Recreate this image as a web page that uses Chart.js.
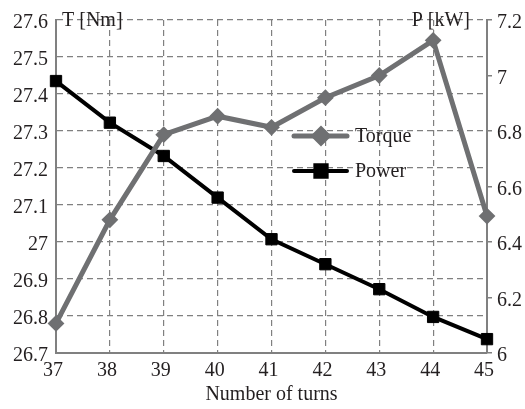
<!DOCTYPE html>
<html>
<head>
<meta charset="utf-8">
<script src="https://cdn.jsdelivr.net/npm/chart.js@4/dist/chart.umd.min.js"></script>
<style>
  html, body { margin: 0; padding: 0; background: #fff; }
  #wrap { width: 525px; height: 409px; }
</style>
</head>
<body>
<div id="wrap"><canvas id="turnsChart" width="525" height="409"></canvas></div>
<script>
// === Daten ===
const turns = ["37", "38", "39", "40", "41", "42", "43", "44", "45"];
const torque = [26.78, 27.06, 27.29, 27.34, 27.31, 27.39, 27.45, 27.545, 27.07]; // T [Nm]
const power = [6.98, 6.83, 6.71, 6.56, 6.41, 6.32, 6.23, 6.13, 6.05];            // P [kW]

const torqueRange = [26.7, 27.6];
const powerRange = [6, 7.2];

// === Stil ===
const FONT = "'Liberation Serif', 'Times New Roman', serif";
const GRAY = "#6f7072";
const AXIS = "#808080";
const TEXT = "#231f20";

// Achsentitel oben im Plot + Legende mit Linie und Marker
const extras = {
  id: "extras",
  afterDatasetsDraw(chart) {
    const { ctx, chartArea } = chart;
    ctx.save();
    ctx.font = "20px " + FONT;
    ctx.fillStyle = TEXT;
    ctx.textBaseline = "middle";
    ctx.textAlign = "left";
    ctx.fillText("T [Nm]", chartArea.left + 6, chartArea.top + 1);
    ctx.textAlign = "right";
    ctx.fillText("P [kW]", chartArea.right - 17, chartArea.top + 1);

    // Legende
    const rows = [
      { ds: chart.data.datasets[0], y: 136 },
      { ds: chart.data.datasets[1], y: 171 },
    ];
    rows.forEach(({ ds, y }) => {
      ctx.strokeStyle = ds.borderColor;
      ctx.lineWidth = ds.borderWidth;
      ctx.lineCap = "round";
      ctx.beginPath();
      ctx.moveTo(294, y);
      ctx.lineTo(347, y);
      ctx.stroke();
      Chart.helpers.drawPoint(ctx, {
        pointStyle: ds.pointStyle,
        radius: ds.pointRadius,
        borderWidth: ds.pointBorderWidth,
        rotation: 0,
      }, 321, y);
      ctx.fillStyle = ds.borderColor;
      ctx.fill();
      ctx.fillStyle = TEXT;
      ctx.textAlign = "left";
      ctx.fillText(ds.label, 355, y + 1);
    });
    ctx.restore();
  },
};

const fmt = (v) => String(+Number(v).toFixed(1));

new Chart(document.getElementById("turnsChart"), {
  type: "line",
  data: {
    labels: turns,
    datasets: [
      {
        label: "Torque",
        data: torque,
        yAxisID: "yT",
        borderColor: GRAY,
        backgroundColor: GRAY,
        borderWidth: 5,
        pointStyle: "rectRot",
        pointRadius: 7,
        pointBorderWidth: 2,
        tension: 0,
      },
      {
        label: "Power",
        data: power,
        yAxisID: "yP",
        borderColor: "#000000",
        backgroundColor: "#000000",
        borderWidth: 4,
        pointStyle: "rect",
        pointRadius: 8,
        pointBorderWidth: 1,
        tension: 0,
      },
    ],
  },
  options: {
    responsive: false,
    animation: false,
    layout: { padding: { top: 15, right: 0, bottom: 0, left: 0 } },
    plugins: {
      legend: { display: false },
      tooltip: { enabled: false },
    },
    scales: {
      x: {
        type: "category",
        offset: false,
        afterFit: (s) => { s.height = 56; },
        grid: { color: AXIS, lineWidth: 1.2, drawTicks: false },
        border: { color: AXIS, width: 2, dash: [6, 4] },
        ticks: {
          color: TEXT,
          font: { family: FONT, size: 20 },
          padding: 6,
          labelOffset: -3,
          maxRotation: 0,
        },
        title: {
          display: true,
          text: "Number of turns",
          color: TEXT,
          font: { family: FONT, size: 20 },
          padding: { top: 0, bottom: 2 },
        },
      },
      yT: {
        position: "left",
        min: torqueRange[0],
        max: torqueRange[1],
        afterFit: (s) => { s.width = 56; },
        grid: { color: AXIS, lineWidth: 1.2, drawTicks: false },
        border: { color: AXIS, width: 2, dash: [6, 4] },
        ticks: {
          stepSize: 0.1,
          color: TEXT,
          font: { family: FONT, size: 20 },
          padding: 8,
          labelOffset: 3,
          callback: fmt,
        },
      },
      yP: {
        position: "right",
        min: powerRange[0],
        max: powerRange[1],
        afterFit: (s) => { s.width = 38; },
        grid: { drawOnChartArea: false, color: AXIS, lineWidth: 1.5, tickLength: 5 },
        border: { color: AXIS, width: 2 },
        ticks: {
          stepSize: 0.2,
          color: TEXT,
          font: { family: FONT, size: 20 },
          padding: 5,
          labelOffset: 3,
          callback: fmt,
        },
      },
    },
  },
  plugins: [extras],
});
</script>
</body>
</html>
